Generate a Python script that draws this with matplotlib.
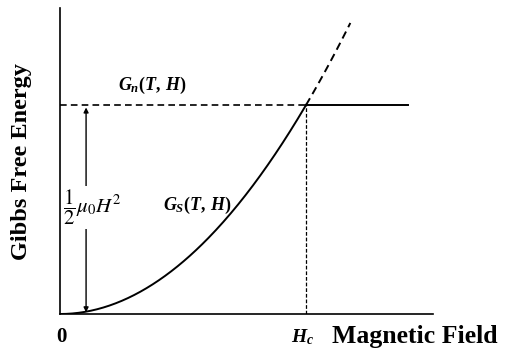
import numpy as np
import matplotlib.pyplot as plt

plt.rcParams['font.family'] = ['Liberation Serif', 'DejaVu Serif']
plt.rcParams['mathtext.fontset'] = 'custom'
plt.rcParams['mathtext.it'] = 'Liberation Serif:italic:bold'
plt.rcParams['mathtext.rm'] = 'Liberation Serif:bold'

# field in units of Hc, energy in units of (1/2) mu0 Hc^2 above G_s(0)
Hc = 1.0
Gn = 1.0
H_end = 1.415       # where the normal-state line stops
H_dash_end = 1.18   # end of the dashed superconducting branch
H_arrow = 0.106     # position of the condensation-energy arrow

H = np.linspace(0, Hc, 200)
H_over = np.linspace(Hc, H_dash_end, 60)
Gs = Gn * (H / Hc) ** 2
Gs_over = Gn * (H_over / Hc) ** 2

fig = plt.figure(figsize=(5.15, 3.53), dpi=100)
ax = fig.add_axes([60 / 515, 39 / 353, 373 / 515, 306 / 353])
ax.set_xlim(0, 1.516)
ax.set_ylim(0, 1.464)

for side in ['top', 'right']:
    ax.spines[side].set_visible(False)
for side in ['left', 'bottom']:
    ax.spines[side].set_linewidth(1.2)
ax.set_xticks([])
ax.set_yticks([])

# superconducting branch
ax.plot(H, Gs, color='black', lw=1.4)
ax.plot(H_over, Gs_over, color='black', lw=1.4, ls=(0, (4, 2.5)))

# normal state
ax.plot([0, Hc], [Gn, Gn], color='black', lw=1.2, ls=(0, (4, 2.5)))
ax.plot([Hc, H_end], [Gn, Gn], color='black', lw=1.4)

# critical field marker
ax.plot([Hc, Hc], [0, Gn], color='black', lw=0.9, ls=(0, (3, 1.5)))

# condensation energy arrow
ax.annotate('', xy=(H_arrow, Gn - 0.012), xytext=(H_arrow, 0.008),
            arrowprops=dict(arrowstyle='<|-|>', color='black', lw=1.0,
                            mutation_scale=7, shrinkA=0, shrinkB=0))
ax.text(0.012, 0.51, r'$\dfrac{1}{2}\mu_0 H^2$', fontsize=15,
        math_fontfamily='stix', ha='left', va='center',
        bbox=dict(facecolor='white', edgecolor='none', pad=1))

ax.text(0.235, 1.095, r'$G_n(T,\, H)$', fontsize=13, ha='left', va='center')
ax.text(0.42, 0.52, r'$G_S(T,\, H)$', fontsize=13, ha='left', va='center')

# axis labels
ax.text(0.005, -0.11, '0', fontsize=15, fontweight='bold',
        ha='center', va='center')
ax.text(0.985, -0.11, r'$H_c$', fontsize=14, ha='center', va='center')
ax.text(1.105, -0.11, 'Magnetic Field', fontsize=18.5, fontweight='bold',
        ha='left', va='center')
ax.text(-0.155, 0.73, 'Gibbs Free Energy', fontsize=17.5, fontweight='bold',
        rotation=90, ha='center', va='center')

fig.savefig('out.png', dpi=100)
